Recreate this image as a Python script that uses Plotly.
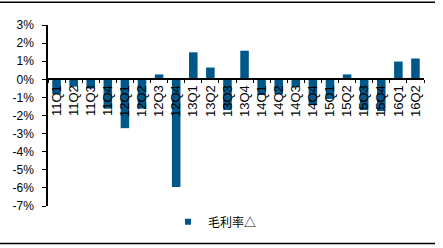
import plotly.graph_objects as go

categories = ["11Q1", "11Q2", "11Q3", "11Q4", "12Q1", "12Q2", "12Q3", "12Q4",
              "13Q1", "13Q2", "13Q3", "13Q4", "14Q1", "14Q2", "14Q3", "14Q4",
              "15Q1", "15Q2", "15Q3", "15Q4", "16Q1", "16Q2"]
gross_margin_delta = [-0.82, -0.40, -0.51, -1.62, -2.70, -1.62, 0.27, -5.95,
                      1.49, 0.65, -1.70, 1.58, -0.87, -0.82, -0.42, -1.42,
                      -1.09, 0.27, -1.70, -1.75, 0.98, 1.15]
series_name = "毛利率△"
y_tick_vals = [3, 2, 1, 0, -1, -2, -3, -4, -5, -6, -7]
y_tick_text = ["3%", "2%", "1%", "0%", "-1%", "-2%", "-3%", "-4%", "-5%", "-6%", "-7%"]

W, H = 443, 248
L, R, T, B = 48, 19, 25, 40
pw, ph = W - L - R, H - T - B
BAR_COLOR = "#00578A"
FONT = "Liberation Sans"

fig = go.Figure()
fig.add_trace(go.Bar(x=categories, y=gross_margin_delta, name=series_name,
                     marker=dict(color=BAR_COLOR, line=dict(width=0)),
                     showlegend=False))
# legend entry with a small square symbol
fig.add_trace(go.Scatter(x=[None], y=[None], mode="markers", name=series_name,
                         marker=dict(symbol="square", size=6, color=BAR_COLOR),
                         showlegend=True))

def px_x(p):
    return (p - L) / pw

def px_y(p):
    return (H - B - p) / ph

fig.update_layout(
    width=W, height=H,
    margin=dict(l=L, r=R, t=T, b=B, pad=0),
    paper_bgcolor="white", plot_bgcolor="white",
    bargap=0.5,
    font=dict(family=FONT, size=11, color="black"),
    showlegend=True,
    legend=dict(orientation="h", x=px_x(168), y=px_y(224), xanchor="left", yanchor="middle",
                font=dict(family="Noto Sans CJK SC", size=12, color="black"),
                itemwidth=30, bgcolor="rgba(0,0,0,0)"),
    xaxis=dict(type="category", anchor="free", position=0.7,
               showline=True, linecolor="black", linewidth=1.5,
               ticks="outside", ticklen=3, tickcolor="black", tickwidth=1,
               tickson="boundaries", tickangle=-90, showgrid=False,
               tickfont=dict(family=FONT, size=13, color="black"),
               range=[-0.5, len(categories) - 0.5]),
    yaxis=dict(range=[-7, 3], tickvals=y_tick_vals, ticktext=y_tick_text,
               showline=True, linecolor="black", linewidth=1.5,
               ticks="outside", ticklen=4, tickcolor="black", tickwidth=1,
               ticklabelstandoff=6,
               showgrid=False, zeroline=False,
               tickfont=dict(family=FONT, size=12, color="black")),
    shapes=[
        dict(type="line", xref="paper", yref="paper", x0=px_x(0), x1=px_x(435),
             y0=px_y(2), y1=px_y(2), line=dict(color="black", width=1.5)),
        dict(type="line", xref="paper", yref="paper", x0=px_x(0), x1=px_x(435),
             y0=px_y(246), y1=px_y(246), line=dict(color="black", width=1.5)),
    ],
)

fig.write_html("out.html")
